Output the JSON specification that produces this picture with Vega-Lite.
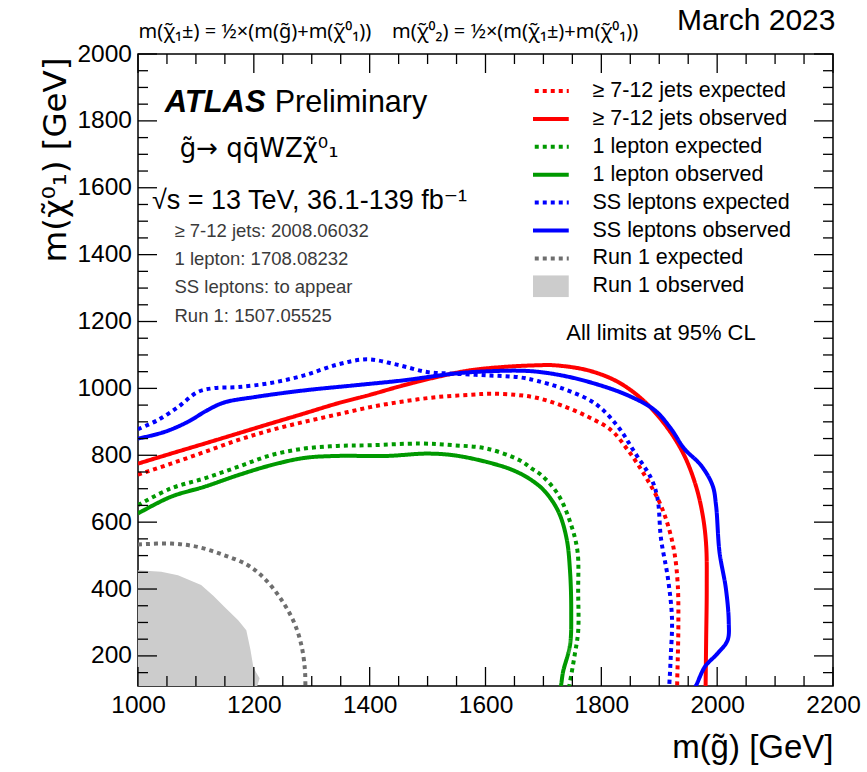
{
  "$schema": "https://vega.github.io/schema/vega-lite/v6.json",
  "width": 695,
  "height": 632,
  "autosize": {"type": "none"},
  "padding": {"left": 138, "top": 54, "right": 34, "bottom": 86},
  "background": "white",
  "config": {
    "view": {"stroke": "black", "strokeWidth": 1.5},
    "font": "Liberation Sans, DejaVu Sans",
    "axis": {"grid": false, "domain": false, "ticks": false, "labelFont": "Liberation Sans, DejaVu Sans", "titleFont": "Liberation Sans, DejaVu Sans", "labelColor": "black", "titleColor": "black", "titleFontWeight": "normal", "labelFlush": false, "labelOverlap": false, "labelFontSize": 24.5}
  },
  "datasets": {
    "xmajor": [{"v": 1000}, {"v": 1200}, {"v": 1400}, {"v": 1600}, {"v": 1800}, {"v": 2000}, {"v": 2200}],
    "xminor": [{"v": 1050}, {"v": 1100}, {"v": 1150}, {"v": 1250}, {"v": 1300}, {"v": 1350}, {"v": 1450}, {"v": 1500}, {"v": 1550}, {"v": 1650}, {"v": 1700}, {"v": 1750}, {"v": 1850}, {"v": 1900}, {"v": 1950}, {"v": 2050}, {"v": 2100}, {"v": 2150}],
    "ymajor": [{"v": 200}, {"v": 400}, {"v": 600}, {"v": 800}, {"v": 1000}, {"v": 1200}, {"v": 1400}, {"v": 1600}, {"v": 1800}, {"v": 2000}],
    "yminor": [{"v": 150}, {"v": 250}, {"v": 300}, {"v": 350}, {"v": 450}, {"v": 500}, {"v": 550}, {"v": 650}, {"v": 700}, {"v": 750}, {"v": 850}, {"v": 900}, {"v": 950}, {"v": 1050}, {"v": 1100}, {"v": 1150}, {"v": 1250}, {"v": 1300}, {"v": 1350}, {"v": 1450}, {"v": 1500}, {"v": 1550}, {"v": 1650}, {"v": 1700}, {"v": 1750}, {"v": 1850}, {"v": 1900}, {"v": 1950}],
    "contours": [
      {"series": "SS leptons expected", "i": 0, "x": 1000, "y": 878},
      {"series": "SS leptons expected", "i": 1, "x": 1034, "y": 905},
      {"series": "SS leptons expected", "i": 2, "x": 1069, "y": 944},
      {"series": "SS leptons expected", "i": 3, "x": 1103, "y": 989},
      {"series": "SS leptons expected", "i": 4, "x": 1132, "y": 1001},
      {"series": "SS leptons expected", "i": 5, "x": 1172, "y": 1004},
      {"series": "SS leptons expected", "i": 6, "x": 1229, "y": 1016},
      {"series": "SS leptons expected", "i": 7, "x": 1287, "y": 1039},
      {"series": "SS leptons expected", "i": 8, "x": 1344, "y": 1071},
      {"series": "SS leptons expected", "i": 9, "x": 1395, "y": 1087},
      {"series": "SS leptons expected", "i": 10, "x": 1447, "y": 1071},
      {"series": "SS leptons expected", "i": 11, "x": 1499, "y": 1049},
      {"series": "SS leptons expected", "i": 12, "x": 1545, "y": 1044},
      {"series": "SS leptons expected", "i": 13, "x": 1602, "y": 1039},
      {"series": "SS leptons expected", "i": 14, "x": 1659, "y": 1033},
      {"series": "SS leptons expected", "i": 15, "x": 1690, "y": 1022},
      {"series": "SS leptons expected", "i": 16, "x": 1731, "y": 1001},
      {"series": "SS leptons expected", "i": 17, "x": 1789, "y": 955},
      {"series": "SS leptons expected", "i": 18, "x": 1829, "y": 885},
      {"series": "SS leptons expected", "i": 19, "x": 1857, "y": 810},
      {"series": "SS leptons expected", "i": 20, "x": 1886, "y": 731},
      {"series": "SS leptons expected", "i": 21, "x": 1897, "y": 671},
      {"series": "SS leptons expected", "i": 22, "x": 1903, "y": 551},
      {"series": "SS leptons expected", "i": 23, "x": 1915, "y": 432},
      {"series": "SS leptons expected", "i": 24, "x": 1922, "y": 312},
      {"series": "SS leptons expected", "i": 25, "x": 1920, "y": 203},
      {"series": "SS leptons expected", "i": 26, "x": 1918, "y": 133},
      {"series": "SS leptons expected", "i": 27, "x": 1917, "y": 105},

      {"series": "≥ 7-12 jets expected", "i": 0, "x": 1000, "y": 742},
      {"series": "≥ 7-12 jets expected", "i": 1, "x": 1057, "y": 775},
      {"series": "≥ 7-12 jets expected", "i": 2, "x": 1115, "y": 810},
      {"series": "≥ 7-12 jets expected", "i": 3, "x": 1172, "y": 845},
      {"series": "≥ 7-12 jets expected", "i": 4, "x": 1229, "y": 875},
      {"series": "≥ 7-12 jets expected", "i": 5, "x": 1287, "y": 900},
      {"series": "≥ 7-12 jets expected", "i": 6, "x": 1344, "y": 922},
      {"series": "≥ 7-12 jets expected", "i": 7, "x": 1401, "y": 944},
      {"series": "≥ 7-12 jets expected", "i": 8, "x": 1458, "y": 961},
      {"series": "≥ 7-12 jets expected", "i": 9, "x": 1516, "y": 974},
      {"series": "≥ 7-12 jets expected", "i": 10, "x": 1573, "y": 981},
      {"series": "≥ 7-12 jets expected", "i": 11, "x": 1607, "y": 984},
      {"series": "≥ 7-12 jets expected", "i": 12, "x": 1650, "y": 981},
      {"series": "≥ 7-12 jets expected", "i": 13, "x": 1688, "y": 972},
      {"series": "≥ 7-12 jets expected", "i": 14, "x": 1731, "y": 949},
      {"series": "≥ 7-12 jets expected", "i": 15, "x": 1777, "y": 915},
      {"series": "≥ 7-12 jets expected", "i": 16, "x": 1817, "y": 875},
      {"series": "≥ 7-12 jets expected", "i": 17, "x": 1846, "y": 815},
      {"series": "≥ 7-12 jets expected", "i": 18, "x": 1875, "y": 740},
      {"series": "≥ 7-12 jets expected", "i": 19, "x": 1900, "y": 661},
      {"series": "≥ 7-12 jets expected", "i": 20, "x": 1915, "y": 591},
      {"series": "≥ 7-12 jets expected", "i": 21, "x": 1926, "y": 511},
      {"series": "≥ 7-12 jets expected", "i": 22, "x": 1932, "y": 412},
      {"series": "≥ 7-12 jets expected", "i": 23, "x": 1933, "y": 292},
      {"series": "≥ 7-12 jets expected", "i": 24, "x": 1932, "y": 193},
      {"series": "≥ 7-12 jets expected", "i": 25, "x": 1931, "y": 123},
      {"series": "≥ 7-12 jets expected", "i": 26, "x": 1931, "y": 105},

      {"series": "1 lepton expected", "i": 0, "x": 1000, "y": 651},
      {"series": "1 lepton expected", "i": 1, "x": 1057, "y": 701},
      {"series": "1 lepton expected", "i": 2, "x": 1115, "y": 731},
      {"series": "1 lepton expected", "i": 3, "x": 1172, "y": 765},
      {"series": "1 lepton expected", "i": 4, "x": 1229, "y": 800},
      {"series": "1 lepton expected", "i": 5, "x": 1287, "y": 820},
      {"series": "1 lepton expected", "i": 6, "x": 1344, "y": 828},
      {"series": "1 lepton expected", "i": 7, "x": 1401, "y": 830},
      {"series": "1 lepton expected", "i": 8, "x": 1487, "y": 835},
      {"series": "1 lepton expected", "i": 9, "x": 1545, "y": 830},
      {"series": "1 lepton expected", "i": 10, "x": 1602, "y": 820},
      {"series": "1 lepton expected", "i": 11, "x": 1659, "y": 785},
      {"series": "1 lepton expected", "i": 12, "x": 1680, "y": 760},
      {"series": "1 lepton expected", "i": 13, "x": 1697, "y": 740},
      {"series": "1 lepton expected", "i": 14, "x": 1726, "y": 681},
      {"series": "1 lepton expected", "i": 15, "x": 1748, "y": 591},
      {"series": "1 lepton expected", "i": 16, "x": 1759, "y": 511},
      {"series": "1 lepton expected", "i": 17, "x": 1760, "y": 392},
      {"series": "1 lepton expected", "i": 18, "x": 1760, "y": 273},
      {"series": "1 lepton expected", "i": 19, "x": 1754, "y": 203},
      {"series": "1 lepton expected", "i": 20, "x": 1746, "y": 123},
      {"series": "1 lepton expected", "i": 21, "x": 1744, "y": 105},

      {"series": "Run 1 expected", "i": 0, "x": 1000, "y": 533},
      {"series": "Run 1 expected", "i": 1, "x": 1057, "y": 536},
      {"series": "Run 1 expected", "i": 2, "x": 1103, "y": 526},
      {"series": "Run 1 expected", "i": 3, "x": 1149, "y": 501},
      {"series": "Run 1 expected", "i": 4, "x": 1189, "y": 472},
      {"series": "Run 1 expected", "i": 5, "x": 1218, "y": 432},
      {"series": "Run 1 expected", "i": 6, "x": 1246, "y": 372},
      {"series": "Run 1 expected", "i": 7, "x": 1269, "y": 302},
      {"series": "Run 1 expected", "i": 8, "x": 1282, "y": 233},
      {"series": "Run 1 expected", "i": 9, "x": 1288, "y": 163},
      {"series": "Run 1 expected", "i": 10, "x": 1289, "y": 118},
      {"series": "Run 1 expected", "i": 11, "x": 1289, "y": 105},

      {"series": "≥ 7-12 jets observed", "i": 0, "x": 1000, "y": 775},
      {"series": "≥ 7-12 jets observed", "i": 1, "x": 1057, "y": 805},
      {"series": "≥ 7-12 jets observed", "i": 2, "x": 1115, "y": 835},
      {"series": "≥ 7-12 jets observed", "i": 3, "x": 1172, "y": 865},
      {"series": "≥ 7-12 jets observed", "i": 4, "x": 1229, "y": 895},
      {"series": "≥ 7-12 jets observed", "i": 5, "x": 1287, "y": 925},
      {"series": "≥ 7-12 jets observed", "i": 6, "x": 1344, "y": 955},
      {"series": "≥ 7-12 jets observed", "i": 7, "x": 1401, "y": 981},
      {"series": "≥ 7-12 jets observed", "i": 8, "x": 1458, "y": 1009},
      {"series": "≥ 7-12 jets observed", "i": 9, "x": 1516, "y": 1034},
      {"series": "≥ 7-12 jets observed", "i": 10, "x": 1573, "y": 1054},
      {"series": "≥ 7-12 jets observed", "i": 11, "x": 1630, "y": 1064},
      {"series": "≥ 7-12 jets observed", "i": 12, "x": 1688, "y": 1069},
      {"series": "≥ 7-12 jets observed", "i": 13, "x": 1720, "y": 1069},
      {"series": "≥ 7-12 jets observed", "i": 14, "x": 1777, "y": 1054},
      {"series": "≥ 7-12 jets observed", "i": 15, "x": 1829, "y": 1019},
      {"series": "≥ 7-12 jets observed", "i": 16, "x": 1875, "y": 960},
      {"series": "≥ 7-12 jets observed", "i": 17, "x": 1915, "y": 880},
      {"series": "≥ 7-12 jets observed", "i": 18, "x": 1943, "y": 800},
      {"series": "≥ 7-12 jets observed", "i": 19, "x": 1963, "y": 710},
      {"series": "≥ 7-12 jets observed", "i": 20, "x": 1975, "y": 621},
      {"series": "≥ 7-12 jets observed", "i": 21, "x": 1981, "y": 531},
      {"series": "≥ 7-12 jets observed", "i": 22, "x": 1982, "y": 402},
      {"series": "≥ 7-12 jets observed", "i": 23, "x": 1981, "y": 252},
      {"series": "≥ 7-12 jets observed", "i": 24, "x": 1980, "y": 105},

      {"series": "SS leptons observed", "i": 0, "x": 1000, "y": 850},
      {"series": "SS leptons observed", "i": 1, "x": 1046, "y": 870},
      {"series": "SS leptons observed", "i": 2, "x": 1086, "y": 900},
      {"series": "SS leptons observed", "i": 3, "x": 1120, "y": 935},
      {"series": "SS leptons observed", "i": 4, "x": 1149, "y": 958},
      {"series": "SS leptons observed", "i": 5, "x": 1201, "y": 974},
      {"series": "SS leptons observed", "i": 6, "x": 1287, "y": 994},
      {"series": "SS leptons observed", "i": 7, "x": 1373, "y": 1009},
      {"series": "SS leptons observed", "i": 8, "x": 1458, "y": 1024},
      {"series": "SS leptons observed", "i": 9, "x": 1545, "y": 1044},
      {"series": "SS leptons observed", "i": 10, "x": 1602, "y": 1051},
      {"series": "SS leptons observed", "i": 11, "x": 1674, "y": 1052},
      {"series": "SS leptons observed", "i": 12, "x": 1731, "y": 1039},
      {"series": "SS leptons observed", "i": 13, "x": 1789, "y": 1014},
      {"series": "SS leptons observed", "i": 14, "x": 1846, "y": 979},
      {"series": "SS leptons observed", "i": 15, "x": 1892, "y": 935},
      {"series": "SS leptons observed", "i": 16, "x": 1920, "y": 880},
      {"series": "SS leptons observed", "i": 17, "x": 1943, "y": 820},
      {"series": "SS leptons observed", "i": 18, "x": 1972, "y": 770},
      {"series": "SS leptons observed", "i": 19, "x": 1992, "y": 710},
      {"series": "SS leptons observed", "i": 20, "x": 1998, "y": 651},
      {"series": "SS leptons observed", "i": 21, "x": 2004, "y": 511},
      {"series": "SS leptons observed", "i": 22, "x": 2015, "y": 402},
      {"series": "SS leptons observed", "i": 23, "x": 2020, "y": 302},
      {"series": "SS leptons observed", "i": 24, "x": 2018, "y": 247},
      {"series": "SS leptons observed", "i": 25, "x": 2001, "y": 208},
      {"series": "SS leptons observed", "i": 26, "x": 1979, "y": 168},
      {"series": "SS leptons observed", "i": 27, "x": 1964, "y": 113},
      {"series": "SS leptons observed", "i": 28, "x": 1961, "y": 105},

      {"series": "1 lepton observed", "i": 0, "x": 1000, "y": 626},
      {"series": "1 lepton observed", "i": 1, "x": 1057, "y": 676},
      {"series": "1 lepton observed", "i": 2, "x": 1115, "y": 706},
      {"series": "1 lepton observed", "i": 3, "x": 1172, "y": 740},
      {"series": "1 lepton observed", "i": 4, "x": 1229, "y": 770},
      {"series": "1 lepton observed", "i": 5, "x": 1287, "y": 792},
      {"series": "1 lepton observed", "i": 6, "x": 1344, "y": 798},
      {"series": "1 lepton observed", "i": 7, "x": 1430, "y": 798},
      {"series": "1 lepton observed", "i": 8, "x": 1499, "y": 805},
      {"series": "1 lepton observed", "i": 9, "x": 1545, "y": 800},
      {"series": "1 lepton observed", "i": 10, "x": 1602, "y": 780},
      {"series": "1 lepton observed", "i": 11, "x": 1648, "y": 755},
      {"series": "1 lepton observed", "i": 12, "x": 1680, "y": 725},
      {"series": "1 lepton observed", "i": 13, "x": 1703, "y": 691},
      {"series": "1 lepton observed", "i": 14, "x": 1726, "y": 631},
      {"series": "1 lepton observed", "i": 15, "x": 1740, "y": 551},
      {"series": "1 lepton observed", "i": 16, "x": 1746, "y": 452},
      {"series": "1 lepton observed", "i": 17, "x": 1748, "y": 332},
      {"series": "1 lepton observed", "i": 18, "x": 1746, "y": 233},
      {"series": "1 lepton observed", "i": 19, "x": 1734, "y": 153},
      {"series": "1 lepton observed", "i": 20, "x": 1731, "y": 118},
      {"series": "1 lepton observed", "i": 21, "x": 1730, "y": 105}
    ],
    "run1obs": [
      {"series": "Run 1 observed", "x": 1205, "y": 105},
      {"series": "Run 1 observed", "x": 1210, "y": 133},
      {"series": "Run 1 observed", "x": 1204, "y": 150},
      {"series": "Run 1 observed", "x": 1199, "y": 168},
      {"series": "Run 1 observed", "x": 1194, "y": 220},
      {"series": "Run 1 observed", "x": 1187, "y": 277},
      {"series": "Run 1 observed", "x": 1173, "y": 307},
      {"series": "Run 1 observed", "x": 1149, "y": 347},
      {"series": "Run 1 observed", "x": 1130, "y": 380},
      {"series": "Run 1 observed", "x": 1109, "y": 412},
      {"series": "Run 1 observed", "x": 1069, "y": 441},
      {"series": "Run 1 observed", "x": 1040, "y": 452},
      {"series": "Run 1 observed", "x": 1000, "y": 456}
    ],
    "notes": [
      {"kind": "atlas", "label": "ATLAS", "x": 1046, "y": 1828},
      {"kind": "prelim", "label": "Preliminary", "x": 1236, "y": 1828},
      {"kind": "process", "label": "g\u0303\u2192 qq\u0304WZ\u03c7\u0303\u2070\u2081", "x": 1072, "y": 1693},
      {"kind": "energy", "label": "\u221as = 13 TeV, 36.1-139 fb\u207b\u00b9", "x": 1024, "y": 1536},
      {"kind": "ref", "label": "\u2265 7-12 jets: 2008.06032", "x": 1063, "y": 1454},
      {"kind": "ref", "label": "1 lepton: 1708.08232", "x": 1063, "y": 1369},
      {"kind": "ref", "label": "SS leptons: to appear", "x": 1063, "y": 1284},
      {"kind": "ref", "label": "Run 1: 1507.05525", "x": 1063, "y": 1199},
      {"kind": "cl", "label": "All limits at 95% CL", "x": 1903, "y": 1145}
    ]
  },
  "resolve": {"axis": {"x": "independent", "y": "independent"}},
  "layer": [
    {
      "data": {"name": "run1obs"},
      "mark": {"type": "area", "orient": "horizontal", "clip": true, "opacity": 1},
      "encoding": {
        "x": {"field": "x", "type": "quantitative", "scale": {"domain": [1000, 2200], "nice": false, "zero": false},
          "axis": {"orient": "bottom", "values": [1000, 1200, 1400, 1600, 1800, 2000, 2200], "format": "d", "labelPadding": 7, "labelFontSize": 24.5,
            "title": "m(g\u0303) [GeV]", "titleFontSize": 33, "titleX": 695, "titleY": 71, "titleAlign": "right", "titleBaseline": "alphabetic"}},
        "x2": {"datum": 1000},
        "y": {"field": "y", "type": "quantitative", "scale": {"domain": [110, 2000], "nice": false, "zero": false},
          "axis": {"orient": "left", "values": [200, 400, 600, 800, 1000, 1200, 1400, 1600, 1800, 2000], "format": "d", "labelPadding": 6.5, "labelFontSize": 24.5,
            "title": "m(\u03c7\u0303\u2070\u2081) [GeV]", "titleFont": "DejaVu Sans", "titleFontSize": 32.5, "titleAngle": 270, "titleX": -73, "titleY": 3, "titleAlign": "right", "titleBaseline": "alphabetic"}},
        "color": {"field": "series", "type": "nominal",
          "scale": {"domain": ["≥ 7-12 jets expected", "≥ 7-12 jets observed", "1 lepton expected", "1 lepton observed", "SS leptons expected", "SS leptons observed", "Run 1 expected", "Run 1 observed"],
                    "range": ["#ff0000", "#ff0000", "#009900", "#009900", "#0000ff", "#0000ff", "#6e6e6e", "#cccccc"]},
          "legend": {"orient": "none", "legendX": 395, "legendY": 26, "direction": "vertical", "title": null, "padding": 0, "symbolType": "stroke", "symbolSize": 2500, "symbolStrokeWidth": 4, "clipHeight": 22, "rowPadding": 5.9, "labelFontSize": 21.5, "labelFont": "Liberation Sans, DejaVu Sans", "labelColor": "black", "labelOffset": 38, "labelLimit": 400,
            "encode": {"symbols": {"update": {"strokeWidth": {"signal": "datum.value === 'Run 1 observed' ? 22 : 4"}}}}}}
      }
    },
    {
      "data": {"name": "contours"},
      "transform": [{"filter": "indexof(datum.series, 'expected') >= 0"}],
      "mark": {"type": "line", "strokeWidth": 4, "clip": true, "strokeCap": "butt", "strokeJoin": "round", "interpolate": "catmull-rom"},
      "encoding": {
        "x": {"field": "x", "type": "quantitative", "scale": {"domain": [1000, 2200], "nice": false, "zero": false},
          "axis": {"orient": "top", "labels": false, "ticks": false,
            "title": "m(\u03c7\u0303\u2081\u00b1) = \u00bd\u00d7(m(g\u0303)+m(\u03c7\u0303\u2070\u2081))\u00a0\u00a0\u00a0\u00a0m(\u03c7\u0303\u2070\u2082) = \u00bd\u00d7(m(\u03c7\u0303\u2081\u00b1)+m(\u03c7\u0303\u2070\u2081))",
            "titleFont": "Noto Sans", "titleFontSize": 20, "titleX": 0, "titleY": -17, "titleAlign": "left", "titleBaseline": "alphabetic"}},
        "y": {"field": "y", "type": "quantitative", "scale": {"domain": [110, 2000], "nice": false, "zero": false}, "axis": null},
        "order": {"field": "i", "type": "quantitative"},
        "color": {"field": "series", "type": "nominal",
          "scale": {"domain": ["≥ 7-12 jets expected", "≥ 7-12 jets observed", "1 lepton expected", "1 lepton observed", "SS leptons expected", "SS leptons observed", "Run 1 expected", "Run 1 observed"],
                    "range": ["#ff0000", "#ff0000", "#009900", "#009900", "#0000ff", "#0000ff", "#6e6e6e", "#cccccc"]},
          "legend": {"orient": "none", "legendX": 395, "legendY": 26, "direction": "vertical", "title": null, "padding": 0, "symbolType": "stroke", "symbolSize": 2500, "symbolStrokeWidth": 4, "clipHeight": 22, "rowPadding": 5.9, "labelFontSize": 21.5, "labelFont": "Liberation Sans, DejaVu Sans", "labelColor": "black", "labelOffset": 38, "labelLimit": 400,
            "encode": {"symbols": {"update": {"strokeWidth": {"signal": "datum.value === 'Run 1 observed' ? 22 : 4"}}}}}},
        "strokeDash": {"field": "series", "type": "nominal",
          "scale": {"domain": ["≥ 7-12 jets expected", "≥ 7-12 jets observed", "1 lepton expected", "1 lepton observed", "SS leptons expected", "SS leptons observed", "Run 1 expected", "Run 1 observed"],
                    "range": [[4, 4], [1, 0], [4, 4], [1, 0], [4, 4], [1, 0], [4, 4], [1, 0]]},
          "legend": {"orient": "none", "legendX": 395, "legendY": 26, "direction": "vertical", "title": null, "padding": 0, "symbolType": "stroke", "symbolSize": 2500, "symbolStrokeWidth": 4, "clipHeight": 22, "rowPadding": 5.9, "labelFontSize": 21.5, "labelFont": "Liberation Sans, DejaVu Sans", "labelColor": "black", "labelOffset": 38, "labelLimit": 400,
            "encode": {"symbols": {"update": {"strokeWidth": {"signal": "datum.value === 'Run 1 observed' ? 22 : 4"}}}}}}
      }
    },
    {
      "data": {"name": "contours"},
      "transform": [{"filter": "indexof(datum.series, 'observed') >= 0"}],
      "mark": {"type": "line", "strokeWidth": 4, "clip": true, "strokeCap": "butt", "strokeJoin": "round", "interpolate": "catmull-rom"},
      "encoding": {
        "x": {"field": "x", "type": "quantitative", "scale": {"domain": [1000, 2200], "nice": false, "zero": false},
          "axis": {"orient": "top", "labels": false, "ticks": false,
            "title": "March 2023", "titleFontSize": 30, "titleX": 697, "titleY": -25, "titleAlign": "right", "titleBaseline": "alphabetic"}},
        "y": {"field": "y", "type": "quantitative", "scale": {"domain": [110, 2000], "nice": false, "zero": false}, "axis": null},
        "order": {"field": "i", "type": "quantitative"},
        "color": {"field": "series", "type": "nominal",
          "scale": {"domain": ["≥ 7-12 jets expected", "≥ 7-12 jets observed", "1 lepton expected", "1 lepton observed", "SS leptons expected", "SS leptons observed", "Run 1 expected", "Run 1 observed"],
                    "range": ["#ff0000", "#ff0000", "#009900", "#009900", "#0000ff", "#0000ff", "#6e6e6e", "#cccccc"]},
          "legend": {"orient": "none", "legendX": 395, "legendY": 26, "direction": "vertical", "title": null, "padding": 0, "symbolType": "stroke", "symbolSize": 2500, "symbolStrokeWidth": 4, "clipHeight": 22, "rowPadding": 5.9, "labelFontSize": 21.5, "labelFont": "Liberation Sans, DejaVu Sans", "labelColor": "black", "labelOffset": 38, "labelLimit": 400,
            "encode": {"symbols": {"update": {"strokeWidth": {"signal": "datum.value === 'Run 1 observed' ? 22 : 4"}}}}}},
        "strokeDash": {"field": "series", "type": "nominal",
          "scale": {"domain": ["≥ 7-12 jets expected", "≥ 7-12 jets observed", "1 lepton expected", "1 lepton observed", "SS leptons expected", "SS leptons observed", "Run 1 expected", "Run 1 observed"],
                    "range": [[4, 4], [1, 0], [4, 4], [1, 0], [4, 4], [1, 0], [4, 4], [1, 0]]},
          "legend": {"orient": "none", "legendX": 395, "legendY": 26, "direction": "vertical", "title": null, "padding": 0, "symbolType": "stroke", "symbolSize": 2500, "symbolStrokeWidth": 4, "clipHeight": 22, "rowPadding": 5.9, "labelFontSize": 21.5, "labelFont": "Liberation Sans, DejaVu Sans", "labelColor": "black", "labelOffset": 38, "labelLimit": 400,
            "encode": {"symbols": {"update": {"strokeWidth": {"signal": "datum.value === 'Run 1 observed' ? 22 : 4"}}}}}}
      }
    },
    {
      "data": {"name": "xmajor"},
      "mark": {"type": "point", "shape": "M0,-1L0,1", "size": 361, "filled": false, "strokeWidth": 1.3, "color": "black", "opacity": 1},
      "encoding": {
        "x": {"field": "v", "type": "quantitative", "scale": {"domain": [1000, 2200], "nice": false, "zero": false}, "axis": null},
        "y": {"datum": 138.4, "type": "quantitative", "scale": {"domain": [110, 2000], "nice": false, "zero": false}, "axis": null}
      }
    },
    {
      "data": {"name": "xmajor"},
      "mark": {"type": "point", "shape": "M0,-1L0,1", "size": 361, "filled": false, "strokeWidth": 1.3, "color": "black", "opacity": 1},
      "encoding": {
        "x": {"field": "v", "type": "quantitative", "scale": {"domain": [1000, 2200], "nice": false, "zero": false}, "axis": null},
        "y": {"datum": 1971.6, "type": "quantitative", "scale": {"domain": [110, 2000], "nice": false, "zero": false}, "axis": null}
      }
    },
    {
      "data": {"name": "xminor"},
      "mark": {"type": "point", "shape": "M0,-1L0,1", "size": 100, "filled": false, "strokeWidth": 1.3, "color": "black", "opacity": 1},
      "encoding": {
        "x": {"field": "v", "type": "quantitative", "scale": {"domain": [1000, 2200], "nice": false, "zero": false}, "axis": null},
        "y": {"datum": 125, "type": "quantitative", "scale": {"domain": [110, 2000], "nice": false, "zero": false}, "axis": null}
      }
    },
    {
      "data": {"name": "xminor"},
      "mark": {"type": "point", "shape": "M0,-1L0,1", "size": 100, "filled": false, "strokeWidth": 1.3, "color": "black", "opacity": 1},
      "encoding": {
        "x": {"field": "v", "type": "quantitative", "scale": {"domain": [1000, 2200], "nice": false, "zero": false}, "axis": null},
        "y": {"datum": 1985, "type": "quantitative", "scale": {"domain": [110, 2000], "nice": false, "zero": false}, "axis": null}
      }
    },
    {
      "data": {"name": "ymajor"},
      "mark": {"type": "point", "shape": "M-1,0L1,0", "size": 361, "filled": false, "strokeWidth": 1.3, "color": "black", "opacity": 1},
      "encoding": {
        "y": {"field": "v", "type": "quantitative", "scale": {"domain": [110, 2000], "nice": false, "zero": false}, "axis": null},
        "x": {"datum": 1016.4, "type": "quantitative", "scale": {"domain": [1000, 2200], "nice": false, "zero": false}, "axis": null}
      }
    },
    {
      "data": {"name": "ymajor"},
      "mark": {"type": "point", "shape": "M-1,0L1,0", "size": 361, "filled": false, "strokeWidth": 1.3, "color": "black", "opacity": 1},
      "encoding": {
        "y": {"field": "v", "type": "quantitative", "scale": {"domain": [110, 2000], "nice": false, "zero": false}, "axis": null},
        "x": {"datum": 2183.6, "type": "quantitative", "scale": {"domain": [1000, 2200], "nice": false, "zero": false}, "axis": null}
      }
    },
    {
      "data": {"name": "yminor"},
      "mark": {"type": "point", "shape": "M-1,0L1,0", "size": 100, "filled": false, "strokeWidth": 1.3, "color": "black", "opacity": 1},
      "encoding": {
        "y": {"field": "v", "type": "quantitative", "scale": {"domain": [110, 2000], "nice": false, "zero": false}, "axis": null},
        "x": {"datum": 1008.6, "type": "quantitative", "scale": {"domain": [1000, 2200], "nice": false, "zero": false}, "axis": null}
      }
    },
    {
      "data": {"name": "yminor"},
      "mark": {"type": "point", "shape": "M-1,0L1,0", "size": 100, "filled": false, "strokeWidth": 1.3, "color": "black", "opacity": 1},
      "encoding": {
        "y": {"field": "v", "type": "quantitative", "scale": {"domain": [110, 2000], "nice": false, "zero": false}, "axis": null},
        "x": {"datum": 2191.4, "type": "quantitative", "scale": {"domain": [1000, 2200], "nice": false, "zero": false}, "axis": null}
      }
    },
    {
      "data": {"name": "notes"},
      "transform": [{"filter": "datum.kind === 'ref'"}],
      "mark": {"type": "text", "align": "left", "baseline": "alphabetic", "font": "Liberation Sans, DejaVu Sans", "fontSize": 18.5, "color": "#3a3a3a"},
      "encoding": {
        "x": {"field": "x", "type": "quantitative", "scale": {"domain": [1000, 2200], "nice": false, "zero": false}, "axis": null},
        "y": {"field": "y", "type": "quantitative", "scale": {"domain": [110, 2000], "nice": false, "zero": false}, "axis": null},
        "text": {"field": "label"}
      }
    },
    {
      "data": {"name": "notes"},
      "transform": [{"filter": "datum.kind === 'atlas'"}],
      "mark": {"type": "text", "align": "left", "baseline": "alphabetic", "font": "Liberation Sans, DejaVu Sans", "fontSize": 31, "fontWeight": "bold", "fontStyle": "italic", "color": "black"},
      "encoding": {
        "x": {"field": "x", "type": "quantitative", "scale": {"domain": [1000, 2200], "nice": false, "zero": false}, "axis": null},
        "y": {"field": "y", "type": "quantitative", "scale": {"domain": [110, 2000], "nice": false, "zero": false}, "axis": null},
        "text": {"field": "label"}
      }
    },
    {
      "data": {"name": "notes"},
      "transform": [{"filter": "datum.kind === 'prelim'"}],
      "mark": {"type": "text", "align": "left", "baseline": "alphabetic", "font": "Liberation Sans, DejaVu Sans", "fontSize": 30.5, "color": "black"},
      "encoding": {
        "x": {"field": "x", "type": "quantitative", "scale": {"domain": [1000, 2200], "nice": false, "zero": false}, "axis": null},
        "y": {"field": "y", "type": "quantitative", "scale": {"domain": [110, 2000], "nice": false, "zero": false}, "axis": null},
        "text": {"field": "label"}
      }
    },
    {
      "data": {"name": "notes"},
      "transform": [{"filter": "datum.kind === 'process'"}],
      "mark": {"type": "text", "align": "left", "baseline": "alphabetic", "font": "DejaVu Sans", "fontSize": 26, "color": "black"},
      "encoding": {
        "x": {"field": "x", "type": "quantitative", "scale": {"domain": [1000, 2200], "nice": false, "zero": false}, "axis": null},
        "y": {"field": "y", "type": "quantitative", "scale": {"domain": [110, 2000], "nice": false, "zero": false}, "axis": null},
        "text": {"field": "label"}
      }
    },
    {
      "data": {"name": "notes"},
      "transform": [{"filter": "datum.kind === 'energy'"}],
      "mark": {"type": "text", "align": "left", "baseline": "alphabetic", "font": "Liberation Sans, DejaVu Sans", "fontSize": 27, "color": "black"},
      "encoding": {
        "x": {"field": "x", "type": "quantitative", "scale": {"domain": [1000, 2200], "nice": false, "zero": false}, "axis": null},
        "y": {"field": "y", "type": "quantitative", "scale": {"domain": [110, 2000], "nice": false, "zero": false}, "axis": null},
        "text": {"field": "label"}
      }
    },
    {
      "data": {"name": "notes"},
      "transform": [{"filter": "datum.kind === 'cl'"}],
      "mark": {"type": "text", "align": "center", "baseline": "alphabetic", "font": "Liberation Sans, DejaVu Sans", "fontSize": 22, "color": "black"},
      "encoding": {
        "x": {"field": "x", "type": "quantitative", "scale": {"domain": [1000, 2200], "nice": false, "zero": false}, "axis": null},
        "y": {"field": "y", "type": "quantitative", "scale": {"domain": [110, 2000], "nice": false, "zero": false}, "axis": null},
        "text": {"field": "label"}
      }
    }
  ]
}
